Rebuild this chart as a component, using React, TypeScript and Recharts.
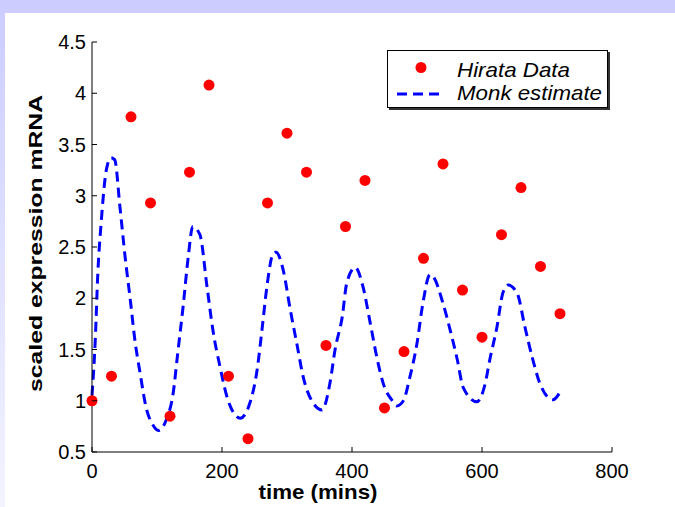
import React from 'react'
import {
  ComposedChart,
  Label,
  Legend,
  Line,
  Scatter,
  XAxis,
  YAxis,
} from 'recharts'

// Hirata data, sampled every 30 mins
const hirataTimes = [0, 30, 60, 90, 120, 150, 180, 210, 240, 270, 300, 330, 360, 390, 420, 450, 480, 510, 540, 570, 600, 630, 660, 690, 720]
const hirataValues = [1.0, 1.24, 3.77, 2.93, 0.85, 3.23, 4.08, 1.24, 0.63, 2.93, 3.61, 3.23, 1.54, 2.7, 3.15, 0.93, 1.48, 2.39, 3.31, 2.08, 1.62, 2.62, 3.08, 2.31, 1.85]

// Monk model estimate
const monkTimes = [0, 5, 9, 14, 22, 29, 35, 43, 51, 59, 66, 74, 83, 94, 102, 114, 125, 132, 140, 148, 155, 166, 177, 186, 197, 209, 228, 243, 254, 262, 269, 279, 283, 294, 305, 315, 325, 340, 354, 366, 374, 385, 392, 405, 417, 428, 439, 448, 462, 469, 479, 489, 500, 509, 520, 525, 540, 551, 562, 571, 592, 605, 612, 623, 632, 640, 654, 666, 677, 689, 709, 723]
const monkValues = [1.05, 1.59, 2.25, 2.73, 3.25, 3.37, 3.35, 2.89, 2.4, 1.98, 1.59, 1.27, 0.94, 0.76, 0.71, 0.81, 1.08, 1.47, 1.91, 2.4, 2.7, 2.62, 2.11, 1.69, 1.33, 1.01, 0.83, 0.98, 1.3, 1.72, 2.11, 2.44, 2.45, 2.28, 1.89, 1.56, 1.23, 0.98, 0.91, 1.17, 1.5, 1.82, 2.15, 2.3, 2.11, 1.76, 1.4, 1.17, 1.0, 0.95, 1.0, 1.23, 1.56, 1.95, 2.23, 2.21, 1.95, 1.69, 1.4, 1.13, 0.99, 1.17, 1.4, 1.72, 2.05, 2.13, 2.05, 1.72, 1.43, 1.17, 1.01, 1.12]

const xTicks = [0, 200, 400, 600, 800]
const yTicks = [0.5, 1, 1.5, 2, 2.5, 3, 3.5, 4, 4.5]

const hirataData = hirataTimes.map((t, i) => ({ t, v: hirataValues[i] }))
const monkData = monkTimes.map((t, i) => ({ t, v: monkValues[i] }))

const FONT = '"Liberation Sans", Arial, Helvetica, sans-serif'

const BottomTick = (p: any) => (
  <g>
    <line x1={p.x} x2={p.x} y1={p.y} y2={p.y - 5} stroke='#000' />
    <text x={p.x} y={p.y + 26} textAnchor='middle' fontSize={20} fontFamily={FONT} fill='#000'>
      {p.payload.value}
    </text>
  </g>
)

const LeftTick = (p: any) => (
  <g>
    <line x1={p.x} x2={p.x + 5} y1={p.y} y2={p.y} stroke='#000' />
    <text x={p.x - 6} y={p.y + 7} textAnchor='end' fontSize={20} fontFamily={FONT} fill='#000'>
      {p.payload.value}
    </text>
  </g>
)

const TopTick = (p: any) => <line x1={p.x} x2={p.x} y1={p.y} y2={p.y + 5} stroke='#000' />
const RightTick = (p: any) => <line x1={p.x} x2={p.x - 5} y1={p.y} y2={p.y} stroke='#000' />

const Dot = (p: any) => <circle cx={p.cx} cy={p.cy} r={5.5} fill='#ff0000' />

function LegendBox() {
  return (
    <div
      style={{
        width: 221,
        height: 58,
        background: '#fff',
        border: '1px solid #000',
        boxShadow: '2px 2px 0 #333',
        boxSizing: 'border-box',
      }}
    >
      <svg width={219} height={56} style={{ display: 'block' }}>
        <circle cx={33} cy={16.5} r={5.5} fill='#ff0000' />
        <text x={69} y={26} fontSize={21} fontStyle='italic' fontFamily={FONT} textLength={113} lengthAdjust='spacingAndGlyphs'>
          Hirata Data
        </text>
        <line x1={9} x2={57} y1={43} y2={43} stroke='#0000ff' strokeWidth={3} strokeDasharray='10 6' />
        <text x={69} y={49} fontSize={21} fontStyle='italic' fontFamily={FONT} textLength={145} lengthAdjust='spacingAndGlyphs'>
          Monk estimate
        </text>
      </svg>
    </div>
  )
}

export default function App() {
  return (
    <div
      style={{
        position: 'absolute',
        left: 0,
        top: 0,
        width: 675,
        height: 507,
        background: 'linear-gradient(to bottom, #ccccff, #f3f3ff)',
        overflow: 'hidden',
      }}
    >
      <div style={{ position: 'absolute', left: 5, top: 13, right: 0, bottom: 0, background: '#fff' }} />
      <div style={{ position: 'absolute', left: 0, top: 0 }}>
        <ComposedChart width={675} height={507} margin={{ top: 42, right: 63, bottom: 0, left: 0 }}>
          <XAxis
            xAxisId='x'
            dataKey='t'
            type='number'
            domain={[0, 800]}
            ticks={xTicks}
            interval={0}
            height={55}
            tickSize={0}
            tickMargin={0}
            tickLine={false}
            tick={BottomTick}
            axisLine={{ stroke: '#000' }}
          >
            <Label
              content={() => (
                <text x={318} y={499} textAnchor='middle' fontSize={21} fontWeight='bold' fontFamily={FONT} textLength={119} lengthAdjust='spacingAndGlyphs'>
                  time (mins)
                </text>
              )}
            />
          </XAxis>
          <XAxis
            xAxisId='top'
            orientation='top'
            type='number'
            domain={[0, 800]}
            ticks={xTicks}
            interval={0}
            height={0}
            tickSize={0}
            tickMargin={0}
            tickLine={false}
            tick={TopTick}
            axisLine={{ stroke: '#000' }}
          />
          <YAxis
            yAxisId='y'
            type='number'
            domain={[0.5, 4.5]}
            ticks={yTicks}
            interval={0}
            width={92}
            tickSize={0}
            tickMargin={0}
            tickLine={false}
            tick={LeftTick}
            axisLine={{ stroke: '#000' }}
          >
            <Label
              content={() => (
                <text
                  x={0}
                  y={0}
                  transform='translate(41.5, 243.5) rotate(-90)'
                  textAnchor='middle'
                  fontSize={19}
                  fontWeight='bold'
                  fontFamily={FONT}
                  textLength={297}
                  lengthAdjust='spacingAndGlyphs'
                >
                  scaled expression mRNA
                </text>
              )}
            />
          </YAxis>
          <YAxis
            yAxisId='right'
            orientation='right'
            type='number'
            domain={[0.5, 4.5]}
            ticks={yTicks}
            interval={0}
            width={0}
            tickSize={0}
            tickMargin={0}
            tickLine={false}
            tick={RightTick}
            axisLine={{ stroke: '#000' }}
          />
          <Legend
            layout='horizontal'
            verticalAlign='middle'
            align='center'
            wrapperStyle={{ left: 387, top: 50, width: 221, height: 58 }}
            content={() => <LegendBox />}
          />
          <Line
            xAxisId='x'
            yAxisId='y'
            data={monkData}
            dataKey='v'
            type='monotone'
            stroke='#0000ff'
            strokeWidth={3}
            strokeDasharray='10 6'
            dot={false}
            activeDot={false}
            isAnimationActive={false}
          />
          <Scatter
            xAxisId='x'
            yAxisId='y'
            data={hirataData}
            dataKey='v'
            shape={Dot}
            isAnimationActive={false}
          />
        </ComposedChart>
      </div>
    </div>
  )
}
